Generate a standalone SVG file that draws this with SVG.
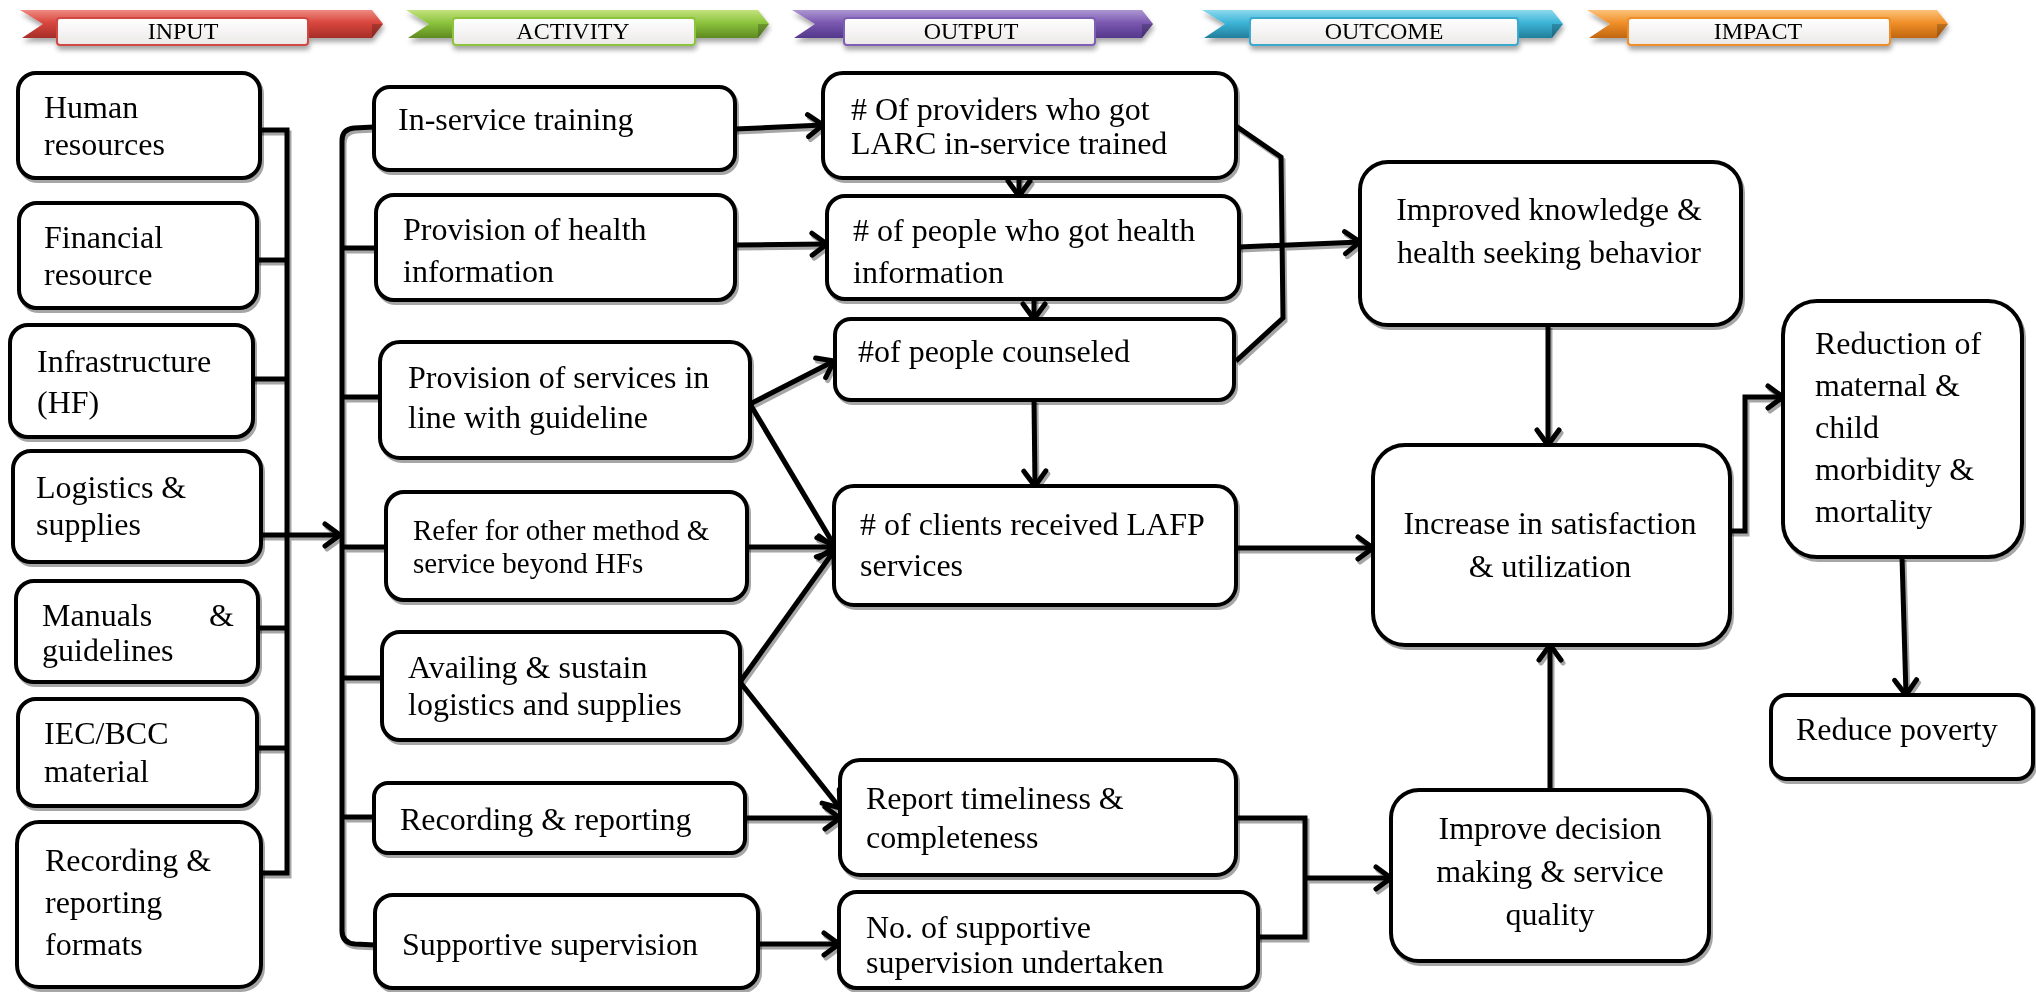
<svg xmlns="http://www.w3.org/2000/svg" width="2036" height="992" viewBox="0 0 2036 992">
<style>
.box{fill:#fff;stroke:#000;stroke-width:4}
.t{font-family:"Liberation Serif","Times New Roman",serif;font-size:32px;fill:#000}
.s29{font-size:29px}
.c{text-anchor:middle}
.ln{fill:none;stroke:#000;stroke-width:5;stroke-linejoin:miter}
.ar{marker-end:url(#ah)}
.bt{font-family:"Liberation Serif","Times New Roman",serif;font-size:24px;fill:#000;text-anchor:middle}
</style>
<defs>
<filter id="sh" filterUnits="userSpaceOnUse" x="0" y="0" width="2036" height="992">
<feDropShadow dx="2" dy="3" stdDeviation="0.6" flood-color="#000" flood-opacity="0.35"/>
</filter>
<filter id="rsh" filterUnits="userSpaceOnUse" x="0" y="0" width="2036" height="80">
<feDropShadow dx="1" dy="4" stdDeviation="2.5" flood-color="#000" flood-opacity="0.35"/>
</filter>
<marker id="ah" markerUnits="userSpaceOnUse" markerWidth="30" markerHeight="30" viewBox="0 0 30 30" refX="22" refY="15" orient="auto">
<path d="M7,4 L22,15 L7,26" fill="none" stroke="#000" stroke-width="5" stroke-linecap="round"/>
</marker>
<linearGradient id="gr" x1="0" y1="0" x2="0" y2="1"><stop offset="0" stop-color="#ee8a82"/><stop offset="0.45" stop-color="#d9463e"/><stop offset="1" stop-color="#a52e28"/></linearGradient>
<linearGradient id="gg" x1="0" y1="0" x2="0" y2="1"><stop offset="0" stop-color="#c2e27e"/><stop offset="0.45" stop-color="#8dc43d"/><stop offset="1" stop-color="#5e8a22"/></linearGradient>
<linearGradient id="gp" x1="0" y1="0" x2="0" y2="1"><stop offset="0" stop-color="#ad97d2"/><stop offset="0.45" stop-color="#7b59b1"/><stop offset="1" stop-color="#52378a"/></linearGradient>
<linearGradient id="gc" x1="0" y1="0" x2="0" y2="1"><stop offset="0" stop-color="#8ed9ee"/><stop offset="0.45" stop-color="#3db5d7"/><stop offset="1" stop-color="#227e9b"/></linearGradient>
<linearGradient id="go" x1="0" y1="0" x2="0" y2="1"><stop offset="0" stop-color="#fbc27a"/><stop offset="0.45" stop-color="#f1902a"/><stop offset="1" stop-color="#c0660f"/></linearGradient>
<linearGradient id="gw" x1="0" y1="0" x2="0" y2="1"><stop offset="0" stop-color="#ffffff"/><stop offset="1" stop-color="#ece8e8"/></linearGradient>
</defs>
<rect width="2036" height="992" fill="#fff"/>

<!-- header ribbons -->
<g id="banner-input" filter="url(#rsh)">
<path d="M20,10 L372,10 L383,24 L372,38 L22,38 L43,24 Z" fill="url(#gr)"/>
<path d="M372,24 L383,24 L372,38 Z" fill="#000" opacity="0.2"/>
<rect x="57" y="18" width="251" height="27" rx="3" fill="url(#gw)" stroke="#cf4a43" stroke-width="2"/>
<text class="bt" x="183" y="39">INPUT</text>
</g>
<g id="banner-activity" filter="url(#rsh)">
<path d="M406,10 L758,10 L769,24 L758,38 L408,38 L429,24 Z" fill="url(#gg)"/>
<path d="M758,24 L769,24 L758,38 Z" fill="#000" opacity="0.2"/>
<rect x="453" y="18" width="242" height="27" rx="3" fill="url(#gw)" stroke="#8cc43c" stroke-width="2"/>
<text class="bt" x="573" y="39">ACTIVITY</text>
</g>
<g id="banner-output" filter="url(#rsh)">
<path d="M792,10 L1142,10 L1153,24 L1142,38 L794,38 L815,24 Z" fill="url(#gp)"/>
<path d="M1142,24 L1153,24 L1142,38 Z" fill="#000" opacity="0.2"/>
<rect x="844" y="18" width="251" height="27" rx="3" fill="url(#gw)" stroke="#7d5fb3" stroke-width="2"/>
<text class="bt" x="971" y="39">OUTPUT</text>
</g>
<g id="banner-outcome" filter="url(#rsh)">
<path d="M1202,10 L1552,10 L1563,24 L1552,38 L1204,38 L1225,24 Z" fill="url(#gc)"/>
<path d="M1552,24 L1563,24 L1552,38 Z" fill="#000" opacity="0.2"/>
<rect x="1250" y="18" width="268" height="27" rx="3" fill="url(#gw)" stroke="#3aa9cc" stroke-width="2"/>
<text class="bt" x="1384" y="39">OUTCOME</text>
</g>
<g id="banner-impact" filter="url(#rsh)">
<path d="M1587,10 L1937,10 L1948,24 L1937,38 L1589,38 L1610,24 Z" fill="url(#go)"/>
<path d="M1937,24 L1948,24 L1937,38 Z" fill="#000" opacity="0.2"/>
<rect x="1628" y="18" width="262" height="27" rx="3" fill="url(#gw)" stroke="#ee8e2c" stroke-width="2"/>
<text class="bt" x="1758" y="39">IMPACT</text>
</g>

<!-- connectors -->
<g id="connectors" filter="url(#sh)">
<!-- input bus -->
<path class="ln" d="M260,130 L287,130 L287,873 L261,873"/>
<path class="ln" d="M257,260 L287,260"/>
<path class="ln" d="M253,379 L287,379"/>
<path class="ln" d="M258,628 L287,628"/>
<path class="ln" d="M257,748 L287,748"/>
<path class="ln ar" d="M261,535 L340,535"/>
<!-- activity bus -->
<path class="ln" d="M374,127 L354,128 Q342,129 342,141 L342,931 Q342,943 355,944 L375,945"/>
<path class="ln" d="M342,248 L376,248"/>
<path class="ln" d="M342,397 L380,397"/>
<path class="ln" d="M342,547 L386,547"/>
<path class="ln" d="M342,678 L382,678"/>
<path class="ln" d="M342,817 L374,817"/>
<!-- activity to output -->
<path class="ln ar" d="M735,129 L823,125"/>
<path class="ln ar" d="M735,245 L827,244"/>
<path class="ln ar" d="M750,404 L834,361"/>
<path class="ln ar" d="M750,404 L834,545"/>
<path class="ln ar" d="M747,547 L834,547"/>
<path class="ln ar" d="M740,682 L834,551"/>
<path class="ln ar" d="M740,682 L840,808"/>
<path class="ln ar" d="M745,818 L840,818"/>
<path class="ln ar" d="M758,944 L839,944"/>
<!-- within output -->
<path class="ln ar" d="M1019,174 L1019,196"/>
<path class="ln ar" d="M1034,296 L1034,319"/>
<path class="ln ar" d="M1034,400 L1035,486"/>
<path class="ln" d="M1236,126 L1281,157 L1283,318 L1236,361"/>
<!-- output to outcome -->
<path class="ln ar" d="M1239,247 L1360,242"/>
<path class="ln ar" d="M1236,548 L1373,548"/>
<path class="ln" d="M1236,818 L1305,818 L1305,937 L1258,937"/>
<path class="ln ar" d="M1305,878 L1391,878"/>
<!-- outcome -->
<path class="ln ar" d="M1548,325 L1548,445"/>
<path class="ln ar" d="M1550,790 L1550,645"/>
<path class="ln ar" d="M1730,531 L1745,531 L1745,397 L1783,397"/>
<path class="ln ar" d="M1902,557 L1906,695"/>
</g>

<!-- INPUT nodes -->
<g filter="url(#sh)">
<g id="in-human"><rect class="box" x="18" y="73" width="242" height="105" rx="18"/><text class="t" x="44" y="118">Human</text><text class="t" x="44" y="155">resources</text></g>
<g id="in-financial"><rect class="box" x="19" y="203" width="238" height="105" rx="18"/><text class="t" x="44" y="248">Financial</text><text class="t" x="44" y="285">resource</text></g>
<g id="in-infrastructure"><rect class="box" x="10" y="325" width="243" height="112" rx="18"/><text class="t" x="37" y="372">Infrastructure</text><text class="t" x="37" y="413">(HF)</text></g>
<g id="in-logistics"><rect class="box" x="13" y="451" width="248" height="111" rx="18"/><text class="t" x="36" y="498">Logistics &amp;</text><text class="t" x="36" y="535">supplies</text></g>
<g id="in-manuals"><rect class="box" x="16" y="581" width="242" height="101" rx="18"/><text class="t"><tspan x="42" y="626">Manuals</tspan><tspan x="209" y="626">&amp;</tspan></text><text class="t" x="42" y="661">guidelines</text></g>
<g id="in-iec"><rect class="box" x="18" y="699" width="239" height="107" rx="18"/><text class="t" x="44" y="744">IEC/BCC</text><text class="t" x="44" y="782">material</text></g>
<g id="in-recording"><rect class="box" x="17" y="822" width="244" height="165" rx="22"/><text class="t" x="45" y="871">Recording &amp;</text><text class="t" x="45" y="913">reporting</text><text class="t" x="45" y="955">formats</text></g>

<!-- ACTIVITY nodes -->
<g id="act-inservice"><rect class="box" x="374" y="87" width="361" height="83" rx="16"/><text class="t" x="398" y="130">In-service training</text></g>
<g id="act-healthinfo"><rect class="box" x="376" y="195" width="359" height="105" rx="18"/><text class="t" x="403" y="240">Provision of health</text><text class="t" x="403" y="282">information</text></g>
<g id="act-services"><rect class="box" x="380" y="342" width="370" height="116" rx="20"/><text class="t" x="408" y="388">Provision of services in</text><text class="t" x="408" y="428">line with guideline</text></g>
<g id="act-refer"><rect class="box" x="386" y="492" width="361" height="108" rx="18"/><text class="t s29" x="413" y="540">Refer for other method &amp;</text><text class="t s29" x="413" y="573">service beyond HFs</text></g>
<g id="act-availing"><rect class="box" x="382" y="632" width="358" height="108" rx="18"/><text class="t" x="408" y="678">Availing &amp; sustain</text><text class="t" x="408" y="715">logistics and supplies</text></g>
<g id="act-recording"><rect class="box" x="374" y="783" width="371" height="70" rx="14"/><text class="t" x="400" y="830">Recording &amp; reporting</text></g>
<g id="act-supervision"><rect class="box" x="375" y="895" width="383" height="93" rx="18"/><text class="t" x="402" y="955">Supportive supervision</text></g>

<!-- OUTPUT nodes -->
<g id="out-providers"><rect class="box" x="823" y="73" width="413" height="105" rx="20"/><text class="t" x="851" y="120"># Of providers who got</text><text class="t" x="851" y="154">LARC in-service trained</text></g>
<g id="out-healthinfo"><rect class="box" x="827" y="196" width="412" height="103" rx="18"/><text class="t" x="853" y="241"># of people who got health</text><text class="t" x="853" y="283">information</text></g>
<g id="out-counseled"><rect class="box" x="835" y="319" width="399" height="81" rx="16"/><text class="t" x="858" y="362">#of people counseled</text></g>
<g id="out-clients"><rect class="box" x="834" y="486" width="402" height="119" rx="20"/><text class="t" x="860" y="535"># of clients received LAFP</text><text class="t" x="860" y="576">services</text></g>
<g id="out-report"><rect class="box" x="840" y="760" width="396" height="115" rx="20"/><text class="t" x="866" y="809">Report timeliness &amp;</text><text class="t" x="866" y="848">completeness</text></g>
<g id="out-supervision"><rect class="box" x="839" y="892" width="419" height="96" rx="18"/><text class="t" x="866" y="938">No. of supportive</text><text class="t" x="866" y="973">supervision undertaken</text></g>

<!-- OUTCOME nodes -->
<g id="oc-knowledge"><rect class="box" x="1360" y="162" width="381" height="163" rx="28"/><text class="t c" x="1549" y="220">Improved knowledge &amp;</text><text class="t c" x="1549" y="263">health seeking behavior</text></g>
<g id="oc-satisfaction"><rect class="box" x="1373" y="445" width="357" height="200" rx="32"/><text class="t c" x="1550" y="534">Increase in satisfaction</text><text class="t c" x="1550" y="577">&amp; utilization</text></g>
<g id="oc-decision"><rect class="box" x="1391" y="790" width="318" height="171" rx="28"/><text class="t c" x="1550" y="839">Improve decision</text><text class="t c" x="1550" y="882">making &amp; service</text><text class="t c" x="1550" y="925">quality</text></g>

<!-- IMPACT nodes -->
<g id="im-reduction"><rect class="box" x="1783" y="301" width="239" height="256" rx="34"/><text class="t" x="1815" y="354">Reduction of</text><text class="t" x="1815" y="396">maternal &amp;</text><text class="t" x="1815" y="438">child</text><text class="t" x="1815" y="480">morbidity &amp;</text><text class="t" x="1815" y="522">mortality</text></g>
<g id="im-poverty"><rect class="box" x="1771" y="695" width="262" height="84" rx="16"/><text class="t" x="1796" y="740">Reduce poverty</text></g>
</g>
</svg>
